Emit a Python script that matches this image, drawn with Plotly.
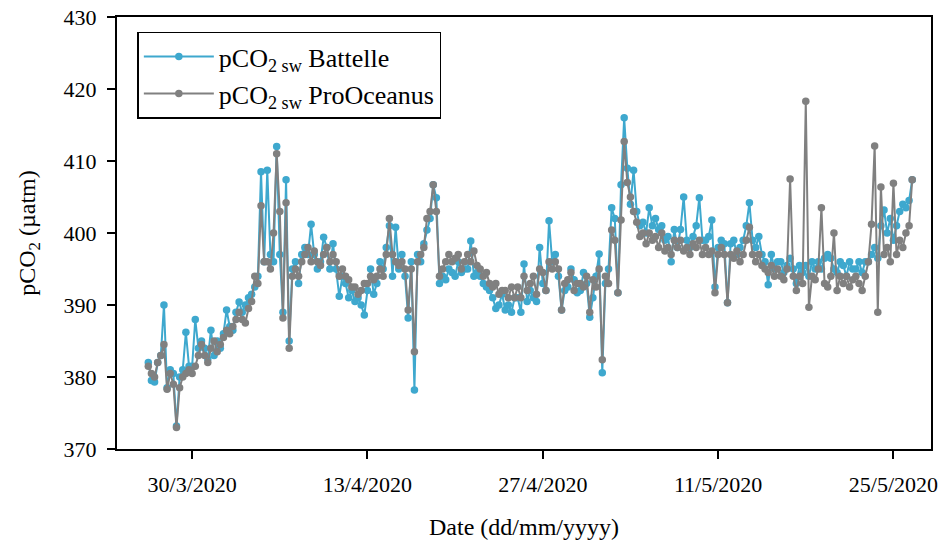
import pandas as pd
import plotly.graph_objects as go

# 6-hourly samples from 26/3/2020 12:00 to 26/5/2020 12:00
start_time = "2020-03-26 12:00"
step = "6h"

battelle = [
    382, 379.5,                      # 26/3
    379.3, 382, 383, 390,            # 27/3
    378.5, 381, 380.5, 373.2,        # 28/3
    380, 381, 386.2, 381.5,          # 29/3
    381.5, 388, 384, 385,            # 30/3
    384, 382.5, 386.5, 383,          # 31/3
    385, 384, 386, 389.3,            # 1/4
    387, 386.5, 389, 390.4,          # 2/4
    389, 390, 391, 391.5,            # 3/4
    392.5, 394, 408.5, 396,          # 4/4
    408.7, 397, 396, 412,            # 5/4
    397, 389, 407.4, 385,            # 6/4
    395, 396, 393, 397,              # 7/4
    398, 397, 401.2, 397,            # 8/4
    395, 396, 399.4, 398,            # 9/4
    395, 398.5, 395, 391.2,          # 10/4
    394, 393, 391, 392,              # 11/4
    390.5, 391, 390, 388.6,          # 12/4
    392, 395, 391.5, 393,            # 13/4
    396, 395, 398, 401,              # 14/4
    394, 400.8, 395, 397,            # 15/4
    394, 388.2, 396, 378.2,          # 16/4
    397, 396, 398.5, 400.4,          # 17/4
    402, 406.7, 404.9, 393,          # 18/4
    394, 393.5, 395, 394.5,          # 19/4
    394, 396, 394.5, 395,            # 20/4
    395, 398.9, 394, 394.5,          # 21/4
    394, 393, 392.5, 392,            # 22/4
    391, 389.5, 390, 391.5,          # 23/4
    389.3, 390, 389, 391,            # 24/4
    391, 389, 395.7, 390.5,          # 25/4
    392, 391, 390.5, 398,            # 26/4
    393, 392, 401.7, 396,            # 27/4
    397, 394, 389.3, 392,            # 28/4
    392.5, 395, 393.5, 391.7,        # 29/4
    392, 394.5, 393, 388.3,          # 30/4
    391, 394, 397.1, 380.6,          # 1/5
    393, 395, 403.5, 402,            # 2/5
    391.7, 406.7, 416, 409,          # 3/5
    404, 408.7, 403, 401,            # 4/5
    401.5, 400, 403.5, 401,          # 5/5
    402, 400.5, 401, 399,            # 6/5
    399.5, 396, 400.5, 398,          # 7/5
    400.5, 405, 399, 398,            # 8/5
    399.5, 401, 404.9, 399,          # 9/5
    399, 399.5, 401.8, 392.5,        # 10/5
    398, 399, 398.5, 390.3,          # 11/5
    398.5, 399, 397, 398,            # 12/5
    399, 401, 404.2, 399,            # 13/5
    398, 399.5, 397, 396,            # 14/5
    392.8, 397, 395, 396,            # 15/5
    396, 394.5, 395.5, 396.5,        # 16/5
    395, 393, 395.5, 394.5,          # 17/5
    395.5, 394, 396, 395,            # 18/5
    396, 395, 396.5, 397,            # 19/5
    396.5, 395, 394.5, 396,          # 20/5
    395.5, 394, 396, 395,            # 21/5
    395, 396, 394.5, 396,            # 22/5
    396, 397, 398, 396.5,            # 23/5
    401, 403.2, 400, 402,            # 24/5
    399, 401, 403, 404,              # 25/5
    403.5, 404.5, 407.4,             # 26/5
]

prooceanus = [
    381.5, 380.5,                    # 26/3
    380, 382, 383, 384.5,            # 27/3
    378.3, 380.5, 379, 373,          # 28/3
    378.5, 380, 380.5, 381,          # 29/3
    380.5, 381.5, 383, 384.5,        # 30/3
    383, 382, 384, 385,              # 31/3
    383.5, 384.5, 385.5, 386.5,      # 1/4
    386, 387, 388, 389,              # 2/4
    388, 387.5, 389.5, 390.5,        # 3/4
    394, 393, 403.8, 396,            # 4/4
    396, 395, 400, 411,              # 5/4
    403, 388.2, 404.2, 384,          # 6/4
    394, 395, 394, 396,              # 7/4
    397, 398, 396, 397.5,            # 8/4
    396, 395.5, 397, 398,            # 9/4
    396, 397, 396, 394,              # 10/4
    395, 394, 393.5, 392.5,          # 11/4
    392.5, 391.5, 392, 393,          # 12/4
    393, 394, 393.5, 394,            # 13/4
    395, 394, 397, 402,              # 14/4
    397, 396, 395.5, 396,            # 15/4
    395, 389.3, 395, 383.5,          # 16/4
    396, 397, 398, 402,              # 17/4
    403, 406.7, 403, 394,            # 18/4
    395, 396, 397, 396,              # 19/4
    396.5, 397, 395, 396,            # 20/4
    397, 396, 397.5, 395.5,          # 21/4
    395, 394, 394.5, 393,            # 22/4
    392.5, 393, 391.5, 392,          # 23/4
    392, 391, 392.5, 391,            # 24/4
    392.5, 391, 394, 392,            # 25/4
    393, 394, 391.5, 395,            # 26/4
    394.5, 392, 396, 395,            # 27/4
    396, 395, 389.3, 393,            # 28/4
    393.5, 394.5, 392, 393,          # 29/4
    393, 392.5, 394, 389,            # 30/4
    393.5, 392.5, 395, 382.4,        # 1/5
    394, 393, 400.4, 399,            # 2/5
    391.7, 401.8, 412.7, 407,        # 3/5
    405, 403, 401.5, 399.5,          # 4/5
    400, 398.5, 400, 399,            # 5/5
    399.5, 398, 400, 397.5,          # 6/5
    398, 397, 399, 398,              # 7/5
    399, 397.5, 398, 397,            # 8/5
    398.5, 398, 399, 397,            # 9/5
    398, 397, 397.5, 391.7,          # 10/5
    397, 398, 397, 390.3,            # 11/5
    397, 396.5, 397.5, 396,          # 12/5
    397, 399, 400.8, 397,            # 13/5
    396, 397, 395.5, 395,            # 14/5
    394.5, 395.5, 394, 395,          # 15/5
    394, 393.5, 395, 407.5,          # 16/5
    394, 392, 394, 393,              # 17/5
    418.3, 389.7, 394, 393.5,        # 18/5
    395, 403.5, 393, 392.5,          # 19/5
    394, 400, 392, 394,              # 20/5
    393, 394, 392.5, 393.5,          # 21/5
    394, 393, 392, 394,              # 22/5
    396, 401.2, 412.1, 389,          # 23/5
    406.4, 397, 398, 396,            # 24/5
    406.9, 397, 399, 398,            # 25/5
    400, 401, 407.4,                 # 26/5
]

tick_dates = ["2020-03-30", "2020-04-13", "2020-04-27", "2020-05-11", "2020-05-25"]
tick_labels = ["30/3/2020", "13/4/2020", "27/4/2020", "11/5/2020", "25/5/2020"]
y_ticks = [370, 380, 390, 400, 410, 420, 430]

times = pd.date_range(start_time, periods=len(battelle), freq=step)

BLUE = "#3EA8CE"
GREY = "#808080"
FONT = "Liberation Serif"

fig = go.Figure()
fig.add_trace(go.Scatter(
    x=times, y=battelle, mode="lines+markers",
    name="pCO<sub>2 sw</sub> Battelle",
    line=dict(color=BLUE, width=2),
    marker=dict(color=BLUE, size=7.5),
))
fig.add_trace(go.Scatter(
    x=times, y=prooceanus, mode="lines+markers",
    name="pCO<sub>2 sw</sub> ProOceanus",
    line=dict(color=GREY, width=2),
    marker=dict(color=GREY, size=7.5),
))

fig.update_layout(
    width=942, height=547,
    margin=dict(l=117, r=11, t=17, b=98),
    paper_bgcolor="white", plot_bgcolor="white",
    font=dict(family=FONT, size=22, color="black"),
    showlegend=True,
    legend=dict(
        x=0.025, y=0.966, xanchor="left", yanchor="top",
        bgcolor="white", bordercolor="black", borderwidth=1.5,
        font=dict(family=FONT, size=26, color="black"),
        itemwidth=70,
    ),
    xaxis=dict(
        range=["2020-03-24", "2020-05-28"],
        tickvals=tick_dates, ticktext=tick_labels,
        ticks="outside", ticklen=8, tickwidth=1.5, tickcolor="black",
        showline=True, linecolor="black", linewidth=2, mirror=True,
        showgrid=False, zeroline=False, automargin=False,
        ticklabelstandoff=7,
        title=dict(text="Date (dd/mm/yyyy)", font=dict(size=24), standoff=22),
    ),
    yaxis=dict(
        range=[370, 430], tickvals=y_ticks,
        ticks="outside", ticklen=8, tickwidth=1.5, tickcolor="black",
        showline=True, linecolor="black", linewidth=2, mirror=True,
        showgrid=False, zeroline=False, automargin=False,
        ticklabelstandoff=6,
        title=dict(text="pCO<sub>2</sub> (µatm)", font=dict(size=24), standoff=21),
    ),
)

fig.write_html("out.html", config={"displayModeBar": False},
               post_script="document.body.style.margin='0';")
